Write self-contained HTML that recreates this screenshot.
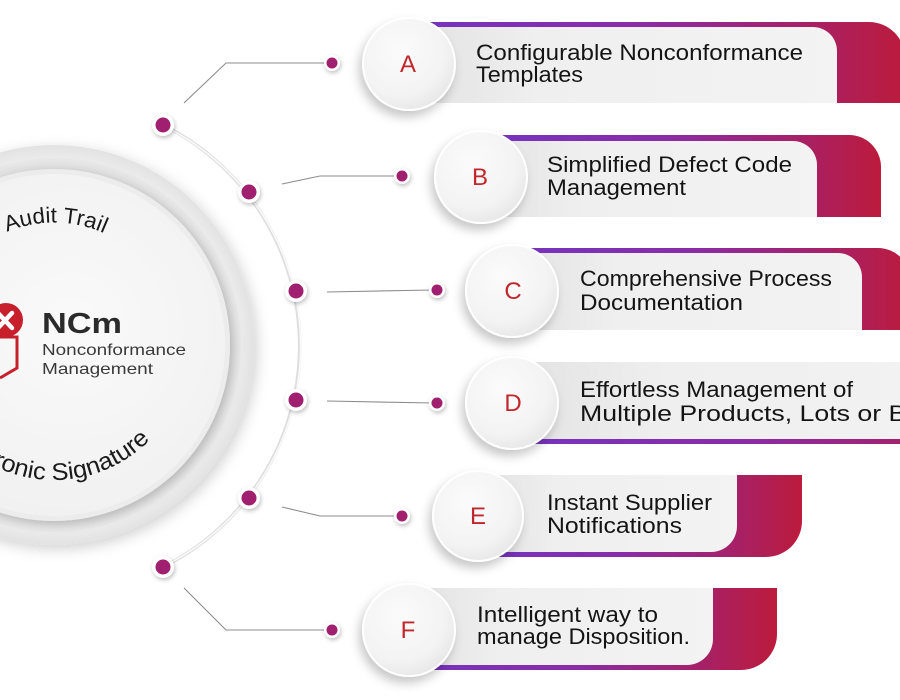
<!DOCTYPE html>
<html><head><meta charset="utf-8"><style>
html,body{margin:0;padding:0;background:#fff;}
svg{display:block;}
text{font-family:"Liberation Sans",sans-serif;}
</style></head><body>
<svg width="900" height="700" viewBox="0 0 900 700" xmlns="http://www.w3.org/2000/svg">
<defs>
  <linearGradient id="band" x1="0" y1="0" x2="1" y2="0">
    <stop offset="0" stop-color="#7434c0"/>
    <stop offset="0.45" stop-color="#8a2ca8"/>
    <stop offset="0.78" stop-color="#a5216a"/>
    <stop offset="1" stop-color="#bc1b3c"/>
  </linearGradient>
  <linearGradient id="gray" x1="0" y1="0" x2="1" y2="0">
    <stop offset="0" stop-color="#e2e2e2"/>
    <stop offset="0.3" stop-color="#efefef"/>
    <stop offset="1" stop-color="#f3f3f3"/>
  </linearGradient>
  <radialGradient id="lc" cx="0.4" cy="0.35" r="0.7">
    <stop offset="0" stop-color="#fbfbfb"/>
    <stop offset="0.7" stop-color="#f3f3f3"/>
    <stop offset="1" stop-color="#e6e6e6"/>
  </radialGradient>
  <radialGradient id="disc" cx="0.5" cy="0.5" r="0.5">
    <stop offset="0.8" stop-color="#f2f2f2"/>
    <stop offset="0.93" stop-color="#ececec"/>
    <stop offset="1" stop-color="#e2e2e2"/>
  </radialGradient>
  <radialGradient id="mid" cx="0.5" cy="0.5" r="0.5">
    <stop offset="0.88" stop-color="#d6d6d6"/>
    <stop offset="1" stop-color="#e8e8e8"/>
  </radialGradient>
  <radialGradient id="face" cx="0.55" cy="0.45" r="0.55">
    <stop offset="0" stop-color="#fafafa"/>
    <stop offset="1" stop-color="#f1f1f1"/>
  </radialGradient>
  <filter id="sh" x="-40%" y="-40%" width="180%" height="180%">
    <feDropShadow dx="-3" dy="6" stdDeviation="5" flood-color="#000" flood-opacity="0.22"/>
  </filter>
  <filter id="dsh" x="-20%" y="-20%" width="140%" height="140%">
    <feDropShadow dx="3" dy="4" stdDeviation="7" flood-color="#000" flood-opacity="0.18"/>
  </filter>
  <filter id="ish" x="-20%" y="-20%" width="140%" height="140%">
    <feDropShadow dx="3" dy="3" stdDeviation="5" flood-color="#000" flood-opacity="0.18"/>
  </filter>
  <filter id="dot" x="-60%" y="-60%" width="220%" height="220%">
    <feDropShadow dx="1" dy="2" stdDeviation="2" flood-color="#000" flood-opacity="0.25"/>
  </filter>
  <path id="topArc" d="M-68.5,345 A122.5,122.5 0 0 1 176.5,345"/>
  <path id="botArc" d="M-81,345 A135,135 0 0 0 189,345"/>
</defs>

<!-- connector arc -->
<path d="M163,125 A247,247 0 0 1 163,567" fill="none" stroke="#dedede" stroke-width="3.5"/>
<path d="M163,125 A245.5,245.5 0 0 1 163,567" fill="none" stroke="#fafafa" stroke-width="1.5" transform="translate(-1,0)"/>

<!-- big disc -->
<circle cx="54" cy="345" r="200" fill="url(#disc)" filter="url(#dsh)"/>
<circle cx="54" cy="345" r="187" fill="url(#mid)"/>
<circle cx="54" cy="345" r="176" fill="#ececec" filter="url(#ish)"/>
<circle cx="54" cy="345" r="171" fill="url(#face)"/>

<!-- curved texts -->
<text font-size="22" fill="#1a1a1a"><textPath href="#topArc" startOffset="144" textLength="100" lengthAdjust="spacingAndGlyphs">Audit Trail</textPath></text>
<text font-size="24" fill="#1a1a1a" text-anchor="end"><textPath href="#botArc" startOffset="319" textLength="228" lengthAdjust="spacingAndGlyphs">Electronic Signature</textPath></text>

<!-- logo -->
<path d="M-2,337 H17 V368 L0,378" fill="none" stroke="#c7202c" stroke-width="3"/>
<circle cx="6" cy="320" r="17" fill="#c7202c"/>
<path d="M-2,313 L12,328 M12,313 L-2,328" stroke="#fff" stroke-width="4.5" stroke-linecap="round"/>
<text x="42" y="333" font-size="29" font-weight="bold" fill="#2b2b2b" textLength="80" lengthAdjust="spacingAndGlyphs">NCm</text>
<text x="42" y="355" font-size="16" fill="#3a3a3a" textLength="144" lengthAdjust="spacingAndGlyphs">Nonconformance</text>
<text x="42" y="374" font-size="16" fill="#3a3a3a" textLength="111" lengthAdjust="spacingAndGlyphs">Management</text>

<!-- connector lines -->
<g fill="none" stroke="#8c8c8c" stroke-width="1.1">
  <polyline points="184,103 226,63 328,63"/>
  <polyline points="282,184 320,176 398,176"/>
  <line x1="327" y1="292" x2="433" y2="290"/>
  <line x1="327" y1="401" x2="433" y2="403"/>
  <polyline points="282,507 320,516 398,516"/>
  <polyline points="184,588 226,630 328,630"/>
</g>

<!-- big dots on arc -->
<g filter="url(#dot)">
  <circle cx="163" cy="125" r="11" fill="#fff"/>
  <circle cx="249" cy="192" r="11" fill="#fff"/>
  <circle cx="296" cy="291" r="11" fill="#fff"/>
  <circle cx="296" cy="400" r="11" fill="#fff"/>
  <circle cx="249" cy="498" r="11" fill="#fff"/>
  <circle cx="163" cy="567" r="11" fill="#fff"/>
</g>
<g fill="#a01f6e">
  <circle cx="163" cy="125" r="7.5"/>
  <circle cx="249" cy="192" r="7.5"/>
  <circle cx="296" cy="291" r="7.5"/>
  <circle cx="296" cy="400" r="7.5"/>
  <circle cx="249" cy="498" r="7.5"/>
  <circle cx="163" cy="567" r="7.5"/>
</g>
<!-- small dots -->
<g filter="url(#dot)">
  <circle cx="332" cy="63" r="8" fill="#fff"/>
  <circle cx="402" cy="176" r="8" fill="#fff"/>
  <circle cx="437" cy="290" r="8" fill="#fff"/>
  <circle cx="437" cy="403" r="8" fill="#fff"/>
  <circle cx="402" cy="516" r="8" fill="#fff"/>
  <circle cx="332" cy="630" r="8" fill="#fff"/>
</g>
<g fill="#a01f6e">
  <circle cx="332" cy="63" r="5.5"/>
  <circle cx="402" cy="176" r="5.5"/>
  <circle cx="437" cy="290" r="5.5"/>
  <circle cx="437" cy="403" r="5.5"/>
  <circle cx="402" cy="516" r="5.5"/>
  <circle cx="332" cy="630" r="5.5"/>
</g>

<!-- cards -->
<path d="M410,22 H869 A36,36 0 0 1 905,58 V103 H410 Z" fill="url(#band)"/>
<path d="M410,27 H813 A24,24 0 0 1 837,51 V103 H410 Z" fill="url(#gray)"/>
<path d="M480,135 H849 A32,32 0 0 1 881,167 V217 H480 Z" fill="url(#band)"/>
<path d="M480,141 H793 A24,24 0 0 1 817,165 V217 H480 Z" fill="url(#gray)"/>
<path d="M510,248 H878 A32,32 0 0 1 910,280 V330 H510 Z" fill="url(#band)"/>
<path d="M510,253 H838 A24,24 0 0 1 862,277 V330 H510 Z" fill="url(#gray)"/>
<rect x="510" y="362" width="520" height="82" fill="url(#band)"/>
<rect x="510" y="362" width="520" height="77" fill="url(#gray)"/>
<path d="M478,475 H802 V521 A36,36 0 0 1 766,557 H478 Z" fill="url(#band)"/>
<path d="M478,475 H737 V526 A26,26 0 0 1 711,552 H478 Z" fill="url(#gray)"/>
<path d="M409,588 H777 V634 A36,36 0 0 1 741,670 H409 Z" fill="url(#band)"/>
<path d="M409,588 H713 V639 A26,26 0 0 1 687,665 H409 Z" fill="url(#gray)"/>

<!-- letter circles -->
<g filter="url(#sh)" fill="url(#lc)" stroke="#ffffff" stroke-width="2">
  <circle cx="409" cy="64" r="46"/>
  <circle cx="481" cy="177" r="46"/>
  <circle cx="512" cy="291" r="46"/>
  <circle cx="512" cy="403" r="46"/>
  <circle cx="478" cy="516" r="45"/>
  <circle cx="409" cy="630" r="46"/>
</g>
<g font-size="24" fill="#c1272d" text-anchor="middle">
  <text x="408" y="72">A</text>
  <text x="480" y="185">B</text>
  <text x="513" y="299">C</text>
  <text x="513" y="411">D</text>
  <text x="478" y="524">E</text>
  <text x="408" y="638">F</text>
</g>

<!-- card texts -->
<g font-size="22" fill="#141414">
  <text x="476" y="60" textLength="327" lengthAdjust="spacingAndGlyphs">Configurable Nonconformance</text>
  <text x="476" y="82" textLength="107" lengthAdjust="spacingAndGlyphs">Templates</text>
  <text x="547" y="172" textLength="245" lengthAdjust="spacingAndGlyphs">Simplified Defect Code</text>
  <text x="547" y="195" textLength="139" lengthAdjust="spacingAndGlyphs">Management</text>
  <text x="580" y="286" textLength="252" lengthAdjust="spacingAndGlyphs">Comprehensive Process</text>
  <text x="580" y="310" textLength="163" lengthAdjust="spacingAndGlyphs">Documentation</text>
  <text x="580" y="397" textLength="273" lengthAdjust="spacingAndGlyphs">Effortless Management of</text>
  <text x="580" y="421" textLength="405" lengthAdjust="spacingAndGlyphs">Multiple Products, Lots or Batches</text>
  <text x="547" y="510" textLength="165" lengthAdjust="spacingAndGlyphs">Instant Supplier</text>
  <text x="547" y="533" textLength="135" lengthAdjust="spacingAndGlyphs">Notifications</text>
  <text x="477" y="622" textLength="181" lengthAdjust="spacingAndGlyphs">Intelligent way to</text>
  <text x="477" y="644" textLength="213" lengthAdjust="spacingAndGlyphs">manage Disposition.</text>
</g>
</svg>
</body></html>
